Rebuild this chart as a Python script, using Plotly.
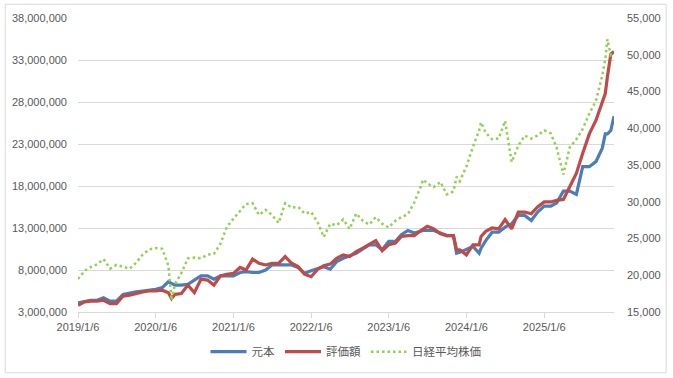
import plotly.graph_objects as go

dates = [
    "2019-01-06", "2019-02-06", "2019-03-06", "2019-04-06", "2019-05-06", "2019-06-06",
    "2019-07-06", "2019-08-06", "2019-09-06", "2019-10-06", "2019-11-06", "2019-12-06",
    "2020-01-06", "2020-02-06", "2020-03-06", "2020-03-21", "2020-04-06", "2020-05-06",
    "2020-06-06", "2020-07-06", "2020-08-06", "2020-09-06", "2020-10-06", "2020-11-06",
    "2020-12-06", "2021-01-06", "2021-02-06", "2021-03-06", "2021-04-06", "2021-05-06",
    "2021-06-06", "2021-07-06", "2021-08-06", "2021-09-06", "2021-10-06", "2021-11-06",
    "2021-12-06", "2022-01-06", "2022-02-06", "2022-03-06", "2022-04-06", "2022-05-06",
    "2022-06-06", "2022-07-06", "2022-08-06", "2022-09-06", "2022-10-06", "2022-11-06",
    "2022-12-06", "2023-01-06", "2023-02-06", "2023-03-06", "2023-04-06", "2023-05-06",
    "2023-06-06", "2023-06-16", "2023-07-06", "2023-08-06", "2023-09-06", "2023-10-06",
    "2023-11-06", "2023-11-21", "2023-12-06", "2024-01-06", "2024-02-06", "2024-03-06",
    "2024-03-15", "2024-04-06", "2024-05-06", "2024-06-06", "2024-07-06", "2024-08-06",
    "2024-09-06", "2024-10-06", "2024-11-06", "2024-12-06", "2025-01-06", "2025-02-06",
    "2025-03-06", "2025-04-06", "2025-05-06", "2025-06-06", "2025-07-06", "2025-08-06",
    "2025-09-06", "2025-10-06", "2025-10-20", "2025-10-30", "2025-11-15", "2025-11-30",
]

# 元本 (principal), in millions of yen
principal_m = [
    4.1, 4.3, 4.4, 4.4, 4.7, 4.3,
    4.3, 5.1, 5.3, 5.4, 5.5, 5.6,
    5.7, 5.9, 6.6, 6.4, 6.2, 6.2,
    6.3, 6.8, 7.3, 7.3, 6.9, 7.3,
    7.3, 7.3, 7.7, 7.8, 7.7, 7.7,
    8.0, 8.6, 8.6, 8.6, 8.6, 8.3,
    7.6, 7.9, 8.2, 8.4, 8.1, 9.0,
    9.4, 9.7, 10.0, 10.5, 11.0, 11.0,
    10.4, 11.4, 11.4, 12.2, 12.7, 12.4,
    12.7, 12.7, 12.7, 12.7, 12.4, 12.1,
    12.1, 10.0, 10.1, 10.4, 10.8, 10.0,
    10.6, 11.5, 12.5, 12.5, 13.1, 13.5,
    14.5, 14.5, 13.9, 14.9, 15.6, 15.6,
    16.0, 17.4, 17.4, 17.0, 20.3, 20.3,
    20.9, 22.5, 24.2, 24.2, 24.6, 26.3,
]

# 評価額 (valuation), in millions of yen
valuation_m = [
    3.8, 4.2, 4.3, 4.3, 4.4, 4.0,
    4.0, 4.9, 5.0, 5.2, 5.4, 5.5,
    5.5, 5.6, 5.3, 4.6, 5.1, 5.2,
    6.2, 5.3, 6.9, 6.8, 6.2, 7.3,
    7.5, 7.6, 8.3, 8.0, 9.3, 8.8,
    8.6, 8.8, 8.8, 9.6, 8.8, 8.4,
    7.5, 7.2, 8.1, 8.5, 8.7, 9.4,
    9.8, 9.6, 10.2, 10.6, 11.0, 11.5,
    10.3, 11.0, 11.2, 12.0, 12.1, 12.1,
    12.7, 12.9, 13.2, 12.9, 12.3, 12.1,
    12.1, 10.4, 10.4, 9.8, 11.0, 11.0,
    12.0, 12.6, 13.0, 12.9, 14.0, 12.9,
    14.9, 14.9, 14.7, 15.5, 16.1, 16.1,
    16.3, 16.4, 18.0, 19.5, 21.9, 24.2,
    25.8, 27.8, 29.0, 31.0, 33.7, 34.0,
]

# 日経平均株価 (Nikkei 225)
nikkei = [
    19500, 20600, 21100, 21500, 22200, 20900,
    21400, 21100, 20900, 21700, 22800, 23500,
    23700, 23600, 21300, 16600, 18800, 20300,
    22300, 22400, 22300, 22800, 22900, 24300,
    26600, 27700, 28800, 29700, 29800, 28200,
    28900, 28200, 27100, 29800, 29200, 29300,
    28400, 28600, 27200, 25200, 27000, 26800,
    27600, 26300, 28400, 27400, 26900, 27900,
    27000, 26500, 27400, 27900, 28300, 29900,
    32100, 33000, 32500, 32000, 32700, 31000,
    31400, 33400, 32800, 34800, 37500, 39700,
    40800, 39400, 38500, 38600, 41000, 35400,
    37600, 39000, 38600, 39000, 39700, 39300,
    37300, 33700, 37400, 38500, 39900, 42000,
    43700, 47200, 49400, 52100, 49900, 50000,
]

x_tick_vals = ["2019-01-06", "2020-01-06", "2021-01-06", "2022-01-06",
               "2023-01-06", "2024-01-06", "2025-01-06"]
x_tick_text = ["2019/1/6", "2020/1/6", "2021/1/6", "2022/1/6",
               "2023/1/6", "2024/1/6", "2025/1/6"]

principal = [v * 1_000_000 for v in principal_m]
valuation = [v * 1_000_000 for v in valuation_m]

tick_font = dict(family="Liberation Sans, Arial, sans-serif", size=11, color="#595959")

fig = go.Figure()
fig.add_trace(go.Scatter(x=dates, y=principal, name="元本", mode="lines",
                         line=dict(color="#4A7EBB", width=3.2)))
fig.add_trace(go.Scatter(x=dates, y=valuation, name="評価額", mode="lines",
                         line=dict(color="#BE4B48", width=3.2)))
fig.add_trace(go.Scatter(x=dates, y=nikkei, name="日経平均株価", mode="lines",
                         yaxis="y2",
                         line=dict(color="#92D050", width=2.5, dash="2.5px,3px")))

fig.update_layout(
    width=673, height=378,
    margin=dict(l=74, r=54, t=15, b=63),
    paper_bgcolor="white", plot_bgcolor="white",
    showlegend=True,
    legend=dict(orientation="h", x=0.5, xanchor="center", y=-0.135, yanchor="middle",
                font=dict(family="Noto Sans CJK JP, sans-serif", size=11.5, color="#595959"),
                itemwidth=36, tracegroupgap=0),
    xaxis=dict(type="date", range=["2019-01-06", "2025-11-30"],
               tickvals=x_tick_vals, ticktext=x_tick_text,
               showgrid=False, showline=True, linecolor="#d9d9d9", linewidth=1,
               ticks="outside", ticklen=5, tickcolor="#d9d9d9",
               tickfont=tick_font, zeroline=False),
    yaxis=dict(range=[3_000_000, 38_000_000], dtick=5_000_000, tick0=3_000_000,
               tickformat=",d", showgrid=True, gridcolor="#d9d9d9", gridwidth=1,
               zeroline=False, showline=False, tickfont=tick_font, ticks="",
               ticklabelstandoff=10),
    yaxis2=dict(range=[15000, 55000], dtick=5000, tick0=15000, overlaying="y",
                side="right", tickformat=",d", showgrid=False, zeroline=False,
                showline=False, tickfont=tick_font, ticklabelstandoff=12),
    shapes=[dict(type="rect", xref="paper", yref="paper",
                 x0=-74/545, x1=1+53/545, y0=-62/300, y1=1+14/300,
                 line=dict(color="#d9d9d9", width=1))],
)

fig.write_html("out.html")
